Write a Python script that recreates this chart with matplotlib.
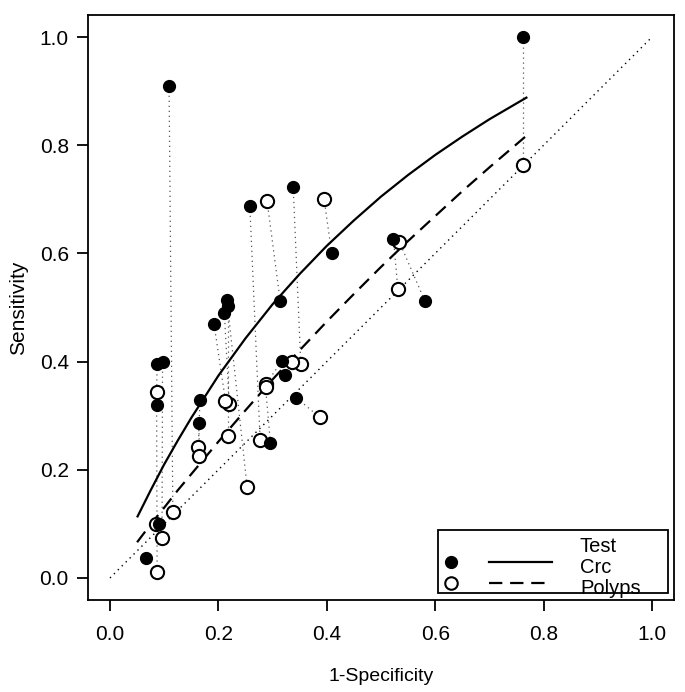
import numpy as np
import matplotlib
matplotlib.use("Agg")
import matplotlib.pyplot as plt
from matplotlib.patches import Rectangle

plt.rcParams['font.family'] = ['Liberation Sans', 'DejaVu Sans']

# ---- data: per-study (1-specificity, sensitivity) for Crc (filled) and Polyps (open)
crc_fpr  = [0.762, 0.109, 0.338, 0.258, 0.314, 0.409, 0.523, 0.581, 0.216, 0.218, 0.211, 0.192,
            0.317, 0.322, 0.344, 0.296, 0.166, 0.164, 0.087, 0.097, 0.086, 0.091, 0.066]
crc_sens = [1.000, 0.910, 0.723, 0.688, 0.512, 0.600, 0.627, 0.512, 0.513, 0.502, 0.490, 0.469,
            0.401, 0.375, 0.333, 0.250, 0.329, 0.286, 0.395, 0.400, 0.319, 0.099, 0.036]
pol_fpr  = [0.762, 0.116, 0.352, 0.277, 0.290, 0.395, 0.531, 0.534, 0.253, 0.218, 0.220, 0.213,
            0.288, 0.335, 0.387, 0.287, 0.163, 0.165, 0.086, 0.096, 0.087, 0.084, np.nan]
pol_sens = [0.763, 0.122, 0.396, 0.255, 0.696, 0.701, 0.535, 0.621, 0.168, 0.262, 0.322, 0.328,
            0.359, 0.400, 0.297, 0.353, 0.242, 0.226, 0.343, 0.074, 0.011, 0.099, np.nan]

# summary ROC curves
curve_fpr  = [0.05, 0.075, 0.10, 0.125, 0.15, 0.20, 0.25, 0.30, 0.35, 0.40, 0.45, 0.50, 0.55, 0.60, 0.65, 0.70, 0.77]
crc_curve  = [0.112, 0.162, 0.210, 0.254, 0.296, 0.374, 0.443, 0.506, 0.562, 0.614, 0.661, 0.705, 0.745, 0.782, 0.816, 0.848, 0.889]
pol_curve  = [0.066, 0.099, 0.130, 0.162, 0.192, 0.252, 0.310, 0.367, 0.421, 0.474, 0.525, 0.575, 0.623, 0.669, 0.715, 0.759, 0.819]

ticks = [0.0, 0.2, 0.4, 0.6, 0.8, 1.0]
tick_labels = ["0.0", "0.2", "0.4", "0.6", "0.8", "1.0"]
legend_title = "Test"
legend_labels = ["Crc", "Polyps"]

W, H = 685, 692
fig = plt.figure(figsize=(W / 100, H / 100), dpi=100)
l, r, t, b = 88.3, 673.7, 15.4, 599.6
ax = fig.add_axes([l / W, 1 - b / H, (r - l) / W, (b - t) / H])
ax.set_xlim(-0.04, 1.04)
ax.set_ylim(-0.04, 1.04)

# diagonal
ax.plot([0, 1], [0, 1], color='black', lw=1.0, linestyle=(0, (1, 3)))

# connecting dotted lines
for xf, yf, xp, yp in zip(crc_fpr, crc_sens, pol_fpr, pol_sens):
    if not (np.isnan(xp) or np.isnan(yp)):
        ax.plot([xf, xp], [yf, yp], color='#555555', lw=0.9, linestyle=(0, (1, 3)))

# curves
ax.plot(curve_fpr, crc_curve, color='black', lw=1.6, solid_capstyle='butt')
ax.plot(curve_fpr, pol_curve, color='black', lw=1.6, linestyle=(0, (6, 3.5)))

# points
ax.plot(pol_fpr, pol_sens, 'o', ms=9.5, mfc='white', mec='black', mew=1.5, ls='none')
ax.plot(crc_fpr, crc_sens, 'o', ms=8.5, mfc='black', mec='black', ls='none')

# axes styling (R-like)
for s in ax.spines.values():
    s.set_linewidth(1.3)
ax.set_xticks(ticks)
ax.set_xticklabels(tick_labels)
ax.set_yticks(ticks)
ax.set_yticklabels(tick_labels)
ax.tick_params(direction='out', length=8, width=1.3, labelsize=15)
ax.tick_params(axis='x', pad=10)
ax.tick_params(axis='y', pad=6)
ax.set_xlabel("1-Specificity", fontsize=14)
ax.set_ylabel("Sensitivity", fontsize=15)
ax.xaxis.set_label_coords(0.5, -0.117)
ax.yaxis.set_label_coords(-0.103, 0.5)

# legend drawn R-style
lx0, lx1, ly0, ly1 = 0.605, 1.0295, -0.0277, 0.0887
ax.add_patch(Rectangle((lx0, ly0), lx1 - lx0, ly1 - ly0, fill=False, ec='black', lw=1.3, zorder=5))
rows_y = [0.0301, -0.0098]
ax.plot([0.6284], [rows_y[0]], 'o', ms=8.5, mfc='black', mec='black', zorder=6)
ax.plot([0.6284], [rows_y[1]], 'o', ms=9, mfc='white', mec='black', mew=1.5, zorder=6)
ax.plot([0.699, 0.8155], [rows_y[0]] * 2, color='black', lw=1.6, zorder=6)
ax.plot([0.699, 0.8155], [rows_y[1]] * 2, color='black', lw=1.6, linestyle=(0, (6, 3.5)), zorder=6)
ax.text(0.867, 0.048, legend_title, fontsize=14.5, va='baseline', ha='left', zorder=6)
ax.text(0.867, 0.0092, legend_labels[0], fontsize=14.5, va='baseline', ha='left', zorder=6)
ax.text(0.867, -0.0296, legend_labels[1], fontsize=14.5, va='baseline', ha='left', zorder=6)

fig.savefig("out.png", dpi=100)
